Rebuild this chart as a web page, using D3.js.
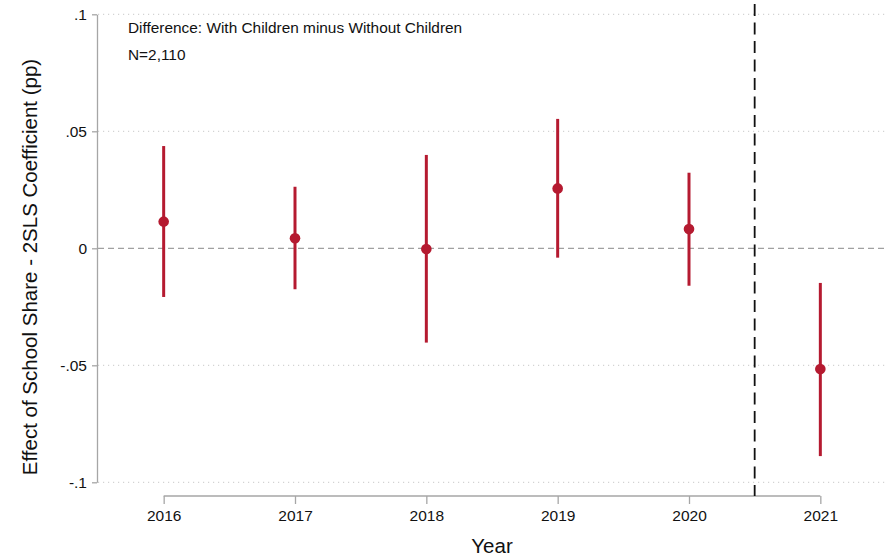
<!DOCTYPE html>
<html>
<head>
<meta charset="utf-8">
<script src="https://cdn.jsdelivr.net/npm/d3@7"></script>
<style>
  html, body { margin: 0; padding: 0; background: #fff; }
  svg { display: block; font-family: "Liberation Sans", Arial, sans-serif; }
</style>
</head>
<body>
<svg id="chart" width="892" height="559"></svg>
<script>
// Event-study estimates by year
const years = [2016, 2017, 2018, 2019, 2020, 2021];
const coef  = [0.0114, 0.0043, -0.0003, 0.0256, 0.0082, -0.0516];
const ciLow = [-0.0208, -0.0175, -0.0403, -0.0040, -0.0160, -0.0888];
const ciHigh = [0.0437, 0.0263, 0.0399, 0.0553, 0.0323, -0.0148];
const yTicks = [0.1, 0.05, 0, -0.05, -0.1];
const yTickLabels = [".1", ".05", "0", "-.05", "-.1"];
const treatmentCut = 2020.5;
const noteLines = ["Difference: With Children minus Without Children", "N=2,110"];

const svg = d3.select("#chart");
const plot = { left: 98, right: 886, top: 14.3, bottom: 482.3 };
const red = "#B51A30";

const x = d3.scaleLinear().domain([2015.5, 2021.5]).range([plot.left, plot.right]);
const y = d3.scaleLinear().domain([-0.1, 0.1]).range([plot.bottom, plot.top]);

// horizontal dotted gridlines
svg.append("g").selectAll("line").data(yTicks.filter(d => d !== 0)).join("line")
  .attr("x1", plot.left).attr("x2", plot.right)
  .attr("y1", d => y(d)).attr("y2", d => y(d))
  .attr("stroke", "#c8c8c8").attr("stroke-width", 1)
  .attr("stroke-dasharray", "1.2,3.8");

// zero reference line
svg.append("line")
  .attr("x1", plot.left).attr("x2", plot.right)
  .attr("y1", y(0)).attr("y2", y(0))
  .attr("stroke", "#a0a0a0").attr("stroke-width", 1.2)
  .attr("stroke-dasharray", "6,4");

// y axis
const yAxis = d3.axisLeft(y).tickValues(yTicks)
  .tickFormat((d, i) => yTickLabels[i]).tickSize(5).tickPadding(5).tickSizeOuter(0);
const gy = svg.append("g").attr("transform", `translate(${plot.left - 1},0)`).call(yAxis);
gy.select(".domain").attr("stroke", "#a6a6a6").attr("stroke-width", 1.3);
gy.selectAll(".tick line").attr("stroke", "#a6a6a6").attr("stroke-width", 1.3);
gy.selectAll(".tick text").attr("fill", "#111").attr("font-size", 15.5)
  .attr("font-family", null);

// x axis (spans only the tick range)
const xAxisY = 496;
const xAxis = d3.axisBottom(x).tickValues(years).tickFormat(d3.format("d"))
  .tickSize(8).tickPadding(6).tickSizeOuter(0);
const gx = svg.append("g").attr("transform", `translate(0,${xAxisY})`).call(xAxis);
gx.select(".domain").attr("d", `M${x(years[0])},0H${x(years[years.length - 1])}`)
  .attr("stroke", "#a6a6a6").attr("stroke-width", 1.3);
gx.selectAll(".tick line").attr("stroke", "#a6a6a6").attr("stroke-width", 1.3);
gx.selectAll(".tick text").attr("fill", "#111").attr("font-size", 15.5)
  .attr("font-family", null);

// treatment cutoff
svg.append("line")
  .attr("x1", x(treatmentCut)).attr("x2", x(treatmentCut))
  .attr("y1", 4).attr("y2", xAxisY)
  .attr("stroke", "#111").attr("stroke-width", 1.8)
  .attr("stroke-dasharray", "12,6.5");

// confidence intervals
svg.append("g").selectAll("line").data(years).join("line")
  .attr("x1", d => x(d)).attr("x2", d => x(d))
  .attr("y1", (d, i) => y(ciLow[i])).attr("y2", (d, i) => y(ciHigh[i]))
  .attr("stroke", red).attr("stroke-width", 3);

// point estimates
svg.append("g").selectAll("circle").data(years).join("circle")
  .attr("cx", d => x(d)).attr("cy", (d, i) => y(coef[i]))
  .attr("r", 5.3).attr("fill", red);

// note
svg.append("g").selectAll("text").data(noteLines).join("text")
  .attr("x", 128).attr("y", (d, i) => 33 + i * 27)
  .attr("font-size", 15.4).attr("fill", "#111").text(d => d);

// axis titles
svg.append("text")
  .attr("transform", `translate(37,267) rotate(-90)`)
  .attr("text-anchor", "middle").attr("font-size", 20.5).attr("fill", "#111")
  .text("Effect of School Share - 2SLS Coefficient (pp)");
svg.append("text")
  .attr("x", (plot.left + plot.right) / 2).attr("y", 553)
  .attr("text-anchor", "middle").attr("font-size", 20.5).attr("fill", "#111")
  .text("Year");
</script>
</body>
</html>
